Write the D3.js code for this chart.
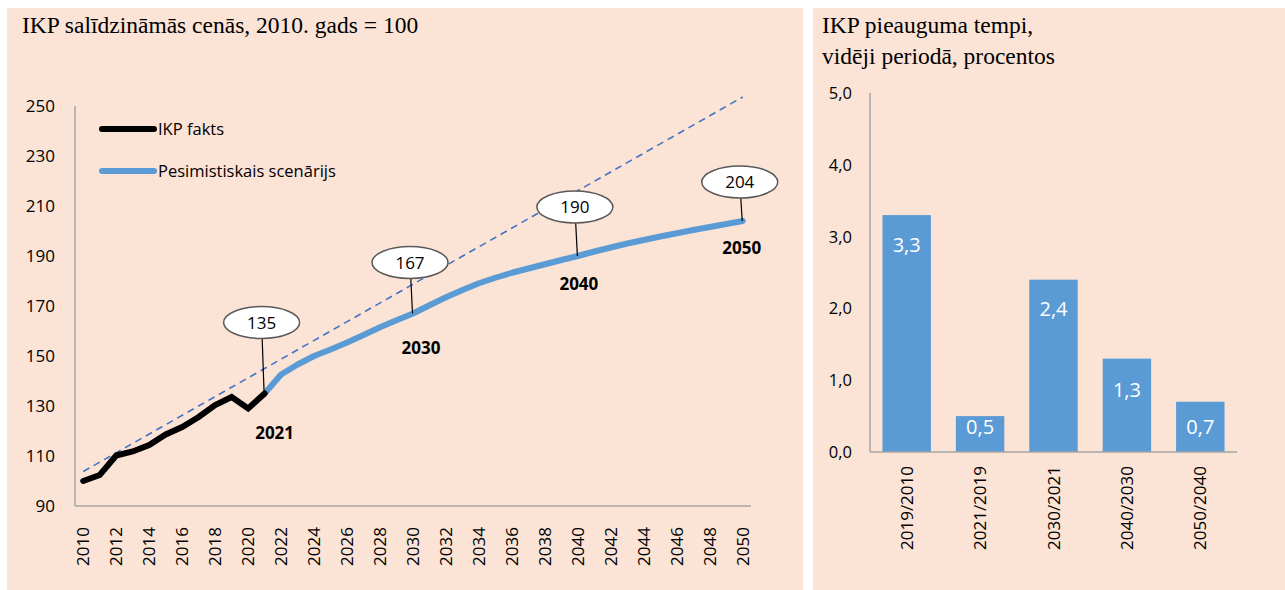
<!DOCTYPE html>
<html>
<head>
<meta charset="utf-8">
<script src="https://d3js.org/d3.v7.min.js"></script>
<style>
  body { margin: 0; background: #fff; }
  svg text { font-family: "Open Sans", "Noto Sans", sans-serif; fill: #000; }
  .ttl { font-family: "Liberation Serif", "DejaVu Serif", serif; font-size: 23.5px; }
</style>
</head>
<body>
<svg id="chart" width="1285" height="590"></svg>
<script>
// ---- data ----
var factYears = [2010, 2011, 2012, 2013, 2014, 2015, 2016, 2017, 2018, 2019, 2020, 2021];
var factValues = [100, 102.4, 110.2, 111.8, 114.4, 118.6, 121.6, 125.6, 130.4, 133.6, 129, 135];

var scenYears = [2021, 2022, 2023, 2024, 2025, 2026, 2027, 2028, 2029, 2030,
                 2031, 2032, 2033, 2034, 2035, 2036, 2037, 2038, 2039, 2040,
                 2041, 2042, 2043, 2044, 2045, 2046, 2047, 2048, 2049, 2050];
var scenValues = [135, 142.6, 146.6, 150, 152.6, 155.4, 158.4, 161.5, 164.3, 167,
                  170.3, 173.5, 176.4, 179.1, 181.3, 183.3, 185, 186.7, 188.4, 190,
                  191.8, 193.4, 195, 196.4, 197.8, 199.1, 200.4, 201.6, 202.8, 204];

var trendYears = [2010, 2050];
var trendValues = [103.8, 253.6];

var calloutYears = [2021, 2030, 2040, 2050];
var calloutValues = [135, 167, 190, 204];
var calloutLift = [71, 51, 49, 39];       // bubble height above the point, px
var calloutYearDrop = [45, 40, 34, 33];   // bold year label below the point, px
var calloutYearShift = [10, 8, 1, -1];    // bold year label sideways shift, px

var yTicksLeft = [90, 110, 130, 150, 170, 190, 210, 230, 250];
var xTickYears = d3.range(2010, 2051, 2);

var periods = ["2019/2010", "2021/2019", "2030/2021", "2040/2030", "2050/2040"];
var growth = [3.3, 0.5, 2.4, 1.3, 0.7];
var labelDrop = [37, 18, 36, 38, 32];     // bar value label baseline below bar top, px
var yTicksRight = [0, 1, 2, 3, 4, 5];

var peach = "#FBE3D6", axisGrey = "#A6A6A6", blue = "#5B9BD5";
var comma = function(v) { return d3.format(".1f")(v).replace(".", ","); };

var svg = d3.select("#chart");

// panels
svg.append("rect").attr("x", 7).attr("y", 8).attr("width", 796).attr("height", 582).attr("fill", peach);
svg.append("rect").attr("x", 813).attr("y", 8).attr("width", 472).attr("height", 582).attr("fill", peach);

// ---------- left chart ----------
var allYears = d3.range(2010, 2051);
var x = d3.scaleBand().domain(allYears).range([75, 751]);
var cx = function(yr) { return x(yr) + x.bandwidth() / 2; };
var y = d3.scaleLinear().domain([90, 250]).range([506, 106]);

svg.append("text").attr("class", "ttl").attr("x", 22).attr("y", 33)
  .text("IKP salīdzināmās cenās, 2010. gads = 100");

svg.append("line").attr("x1", 75).attr("x2", 75).attr("y1", 106).attr("y2", 506)
  .attr("stroke", axisGrey).attr("stroke-width", 1.5);
svg.append("line").attr("x1", 75).attr("x2", 751).attr("y1", 506).attr("y2", 506)
  .attr("stroke", axisGrey).attr("stroke-width", 1.5);

svg.selectAll(".ytl").data(yTicksLeft).enter().append("text")
  .attr("x", 55).attr("y", function(d) { return y(d) + 6; })
  .attr("text-anchor", "end").style("font-size", "17px")
  .text(function(d) { return d; });

svg.selectAll(".xtl").data(xTickYears).enter().append("text")
  .attr("transform", function(d) { return "translate(" + (cx(d) + 6) + ",527) rotate(-90)"; })
  .attr("text-anchor", "end").style("font-size", "17px")
  .text(function(d) { return d; });

var line = d3.line().x(function(d) { return cx(d[0]); }).y(function(d) { return y(d[1]); });

svg.append("path").datum(d3.zip(trendYears, trendValues)).attr("d", line)
  .attr("fill", "none").attr("stroke", "#4472C4").attr("stroke-width", 1.6)
  .attr("stroke-dasharray", "7,5");

svg.append("path").datum(d3.zip(scenYears, scenValues)).attr("d", line)
  .attr("fill", "none").attr("stroke", blue).attr("stroke-width", 6)
  .attr("stroke-linejoin", "round").attr("stroke-linecap", "round");

svg.append("path").datum(d3.zip(factYears, factValues)).attr("d", line)
  .attr("fill", "none").attr("stroke", "#000").attr("stroke-width", 6)
  .attr("stroke-linejoin", "miter").attr("stroke-linecap", "round");

// callouts
calloutYears.forEach(function(yr, i) {
  var px = cx(yr), py = y(calloutValues[i]);
  var bx = px - 3, by = py - calloutLift[i];
  svg.append("line").attr("x1", bx).attr("y1", by).attr("x2", px - 0.5).attr("y2", py)
    .attr("stroke", "#000").attr("stroke-width", 1.2);
  svg.append("ellipse").attr("cx", bx).attr("cy", by).attr("rx", 38).attr("ry", 16)
    .attr("fill", "#fff").attr("stroke", "#595959").attr("stroke-width", 1.5);
  svg.append("text").attr("x", bx).attr("y", by + 6).attr("text-anchor", "middle")
    .style("font-size", "17px").text(calloutValues[i]);
  svg.append("text").attr("x", px + calloutYearShift[i]).attr("y", py + calloutYearDrop[i])
    .attr("text-anchor", "middle").style("font-size", "17px").style("font-weight", "bold")
    .text(yr);
});

// legend
var legend = [["IKP fakts", "#000"], ["Pesimistiskais scenārijs", blue]];
legend.forEach(function(l, i) {
  var ly = 129 + i * 42;
  svg.append("line").attr("x1", 102).attr("x2", 154).attr("y1", ly).attr("y2", ly)
    .attr("stroke", l[1]).attr("stroke-width", 6).attr("stroke-linecap", "round");
  svg.append("text").attr("x", 158).attr("y", ly + 6).style("font-size", "16.5px").text(l[0]);
});

// ---------- right chart ----------
var xb = d3.scaleBand().domain(periods).range([870, 1237]).paddingInner(0.34).paddingOuter(0.17);
var yb = d3.scaleLinear().domain([0, 5]).range([452, 93]);

svg.append("text").attr("class", "ttl").attr("x", 822).attr("y", 33).text("IKP pieauguma tempi,");
svg.append("text").attr("class", "ttl").attr("x", 822).attr("y", 64).text("vidēji periodā, procentos");

svg.selectAll(".bar").data(growth).enter().append("rect")
  .attr("x", function(d, i) { return xb(periods[i]); })
  .attr("y", function(d) { return yb(d); })
  .attr("width", xb.bandwidth())
  .attr("height", function(d) { return yb(0) - yb(d); })
  .attr("fill", blue);

svg.selectAll(".bl").data(growth).enter().append("text")
  .attr("x", function(d, i) { return xb(periods[i]) + xb.bandwidth() / 2; })
  .attr("y", function(d, i) { return yb(d) + labelDrop[i]; })
  .attr("text-anchor", "middle").style("font-size", "20px").style("fill", "#fff")
  .text(function(d) { return comma(d); });

svg.append("line").attr("x1", 870).attr("x2", 870).attr("y1", 93).attr("y2", 452)
  .attr("stroke", axisGrey).attr("stroke-width", 1.5);
svg.append("line").attr("x1", 870).attr("x2", 1237).attr("y1", 452).attr("y2", 452)
  .attr("stroke", axisGrey).attr("stroke-width", 1.5);

svg.selectAll(".ytr").data(yTicksRight).enter().append("text")
  .attr("x", 852).attr("y", function(d) { return yb(d) + 6; })
  .attr("text-anchor", "end").style("font-size", "16.5px")
  .text(function(d) { return comma(d); });

svg.selectAll(".xtr").data(periods).enter().append("text")
  .attr("transform", function(d) { return "translate(" + (xb(d) + xb.bandwidth() / 2 + 6) + ",466) rotate(-90)"; })
  .attr("text-anchor", "end").style("font-size", "17px")
  .text(function(d) { return d; });
</script>
</body>
</html>
